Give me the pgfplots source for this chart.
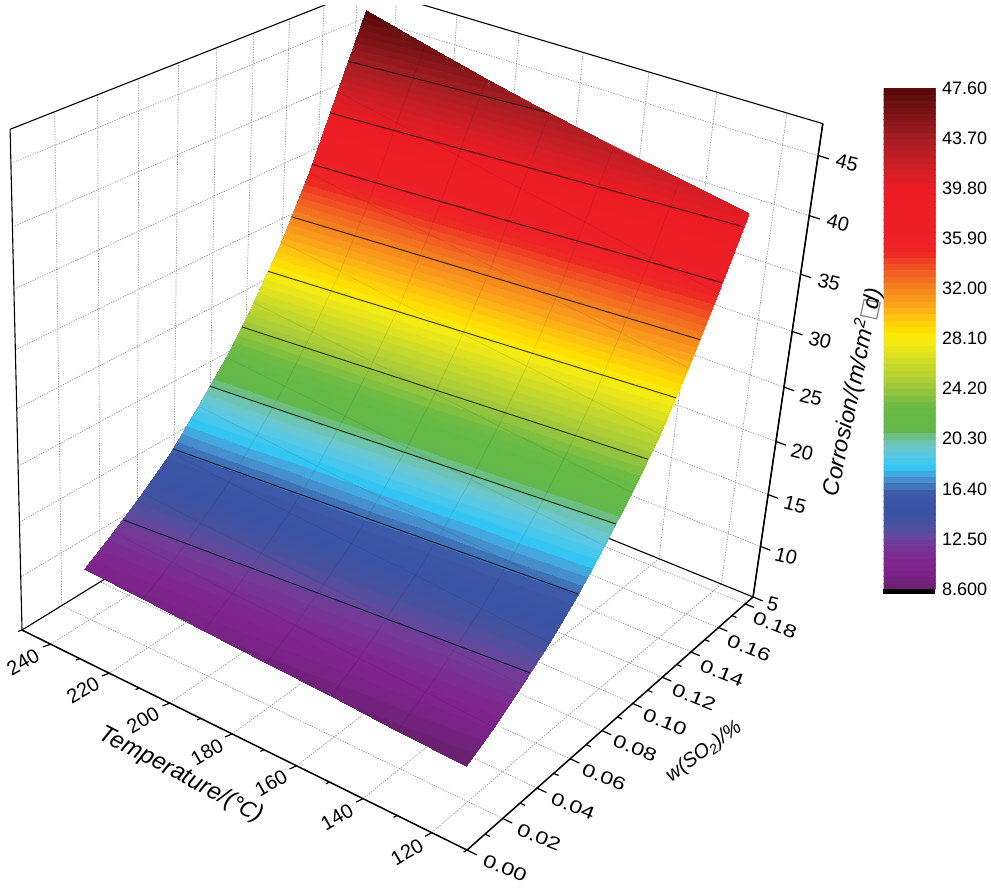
\documentclass[border=0pt]{standalone}
\usepackage{fontspec}
\usepackage{pgfplots}
\usepackage{pgfplotstable}
\pgfplotsset{compat=1.18}
\setmainfont{Liberation Sans}
\newfontfamily\djf{DejaVu Sans}
\pgfplotstableread{
T S C
120 0.017 8.6
140 0.017 8.85
160 0.017 9.1
180 0.017 9.35
200 0.017 9.6
220 0.017 9.85
240 0.017 10.1
120 0.032 10.1
140 0.032 10.4
160 0.032 10.7
180 0.032 11.0
200 0.032 11.3
220 0.032 11.6
240 0.032 11.9
120 0.047 12.0
140 0.047 12.3
160 0.047 12.7
180 0.047 13.0
200 0.047 13.3
220 0.047 13.6
240 0.047 14.0
120 0.062 13.9
140 0.062 14.3
160 0.062 14.7
180 0.062 15.05
200 0.062 15.4
220 0.062 15.8
240 0.062 16.2
120 0.077 16.3
140 0.077 16.8
160 0.077 17.2
180 0.077 17.7
200 0.077 18.1
220 0.077 18.6
240 0.077 19.05
120 0.092 19.1
140 0.092 19.6
160 0.092 20.1
180 0.092 20.65
200 0.092 21.2
220 0.092 21.7
240 0.092 22.2
120 0.107 22.2
140 0.107 22.8
160 0.107 23.4
180 0.107 24.05
200 0.107 24.7
220 0.107 25.3
240 0.107 25.9
120 0.122 25.8
140 0.122 26.5
160 0.122 27.3
180 0.122 28.0
200 0.122 28.7
220 0.122 29.5
240 0.122 30.2
120 0.137 30.1
140 0.137 31.0
160 0.137 31.8
180 0.137 32.7
200 0.137 33.6
220 0.137 34.4
240 0.137 35.3
120 0.152 35.2
140 0.152 36.2
160 0.152 37.3
180 0.152 38.3
200 0.152 39.3
220 0.152 40.4
240 0.152 41.4
120 0.167 40.7
140 0.167 41.7
160 0.167 42.7
180 0.167 43.7
200 0.167 44.9
220 0.167 46.2
240 0.167 47.6
}\surfdata
\newcommand\seg[7][]{\addplot3[#1] table[row sep=\\,x expr={projx(\thisrow{T},\thisrow{S},\thisrow{C})},y expr={projy(\thisrow{T},\thisrow{S},\thisrow{C})},z expr=0]{T S C\\ #2 #3 #4\\ #5 #6 #7\\};}
\newcommand\slab[3]{\node[lb,font=\fontsize{18}{20}\selectfont,rotate=-22] at (axis cs:#1,#2,0) {\scalebox{1.3}[1]{#3}};}
\tikzset{
 gl/.style={no marks,draw=black!45,line width=0.7pt,dash pattern=on 1.2pt off 1.4pt},
 ed/.style={no marks,draw=black,line width=1.5pt},
 edt/.style={no marks,draw=black,line width=1.1pt},
 tk/.style={no marks,draw=black,line width=1.2pt},
 cl/.style={no marks,draw=black,draw opacity=0.72,line width=1pt},
 lb/.style={font=\fontsize{20}{22}\selectfont,inner sep=0pt,text=black},
}
\begin{document}
\begin{tikzpicture}
\begin{axis}[
 name=main,
 scale only axis,width=991pt,height=888pt,
 xmin=0,xmax=991,ymin=0,ymax=888,zmin=-1,zmax=1,
 view={0}{90},hide axis,
 declare function={
  uu(\t)=(\t-110)/140; vv(\s)=\s/0.186; ww(\z)=(\z-5)/42.6;
  dn(\t,\s,\z)=1+0.1179*uu(\t)+0.184*vv(\s)-0.118*ww(\z);
  projx(\t,\s,\z)=(467-442.4*uu(\t)+424.6*vv(\s)-14.5*ww(\z))/dn(\t,\s,\z);
  projy(\t,\s,\z)=888-(850-145.7*uu(\t)-143.2*vv(\s)-575*ww(\z))/dn(\t,\s,\z);
 },
 colormap={bandsrc}{
  rgb255(0)=(106,33,112); rgb255(2)=(122,35,135); rgb255(4)=(128,38,143);
  rgb255(7)=(116,58,151); rgb255(8)=(100,73,157); rgb255(10)=(71,82,159);
  rgb255(12)=(59,83,164); rgb255(15)=(61,86,166); rgb255(16)=(63,109,179); rgb255(17)=(69,138,201);
  rgb255(18)=(72,160,218); rgb255(19)=(47,198,245); rgb255(21)=(85,200,230);
  rgb255(22)=(104,200,216); rgb255(24)=(112,194,154); rgb255(25)=(98,184,74);
  rgb255(29)=(104,187,69); rgb255(32)=(156,199,61); rgb255(36)=(203,218,42);
  rgb255(39)=(240,232,21); rgb255(40)=(249,236,19); rgb255(41)=(255,228,0);
  rgb255(43)=(254,203,10); rgb255(45)=(251,172,24); rgb255(47)=(248,147,29);
  rgb255(49)=(244,122,32); rgb255(51)=(241,90,36); rgb255(53)=(238,58,36);
  rgb255(54)=(237,36,36); rgb255(56)=(237,32,39); rgb255(64)=(237,28,36);
  rgb255(67)=(214,30,38); rgb255(72)=(168,30,34); rgb255(76)=(127,21,24);
  rgb255(80)=(90,10,10);
 },
 colormap={band}{samples of colormap={80 of bandsrc}},
 colormap name=band,
 colormap access=piecewise constant,
 point meta min=8.6,point meta max=47.6,
 colorbar,colorbar sampled,
 colorbar style={
  samples=81,at={(parent axis.south west)},anchor=south west,
  xshift=875pt,yshift=299pt,width=52pt,height=501pt,
  ytick={8.6,12.5,16.4,20.3,24.2,28.1,32,35.9,39.8,43.7,47.6},
  yticklabels={8.600,12.50,16.40,20.30,24.20,28.10,32.00,35.90,39.80,43.70,47.60},
  tick style={draw=none},major tick length=0pt,
  yticklabel style={font=\fontsize{18}{20}\selectfont,text=black,xshift=3pt},
  axis line style={draw=none},
 },
]
% floor and walls
\pgfplotsinvokeforeach{120,140,160,180,200,220,240}{
 \seg[gl]{#1}{0}{5}{#1}{0.186}{5}
 \seg[gl]{#1}{0.186}{5}{#1}{0.186}{47.6}
}
\pgfplotsinvokeforeach{0.02,0.04,0.06,0.08,0.10,0.12,0.14,0.16,0.18}{
 \seg[gl]{110}{#1}{5}{250}{#1}{5}
 \seg[gl]{250}{#1}{5}{250}{#1}{47.6}
}
\pgfplotsinvokeforeach{10,15,20,25,30,35,40,45}{
 \seg[gl]{250}{0}{#1}{250}{0.186}{#1}
 \seg[gl]{110}{0.186}{#1}{250}{0.186}{#1}
}
% box edges
\seg[edt]{250}{0}{5}{250}{0.186}{5}
\seg[edt]{110}{0.186}{5}{250}{0.186}{5}
\seg[edt]{250}{0}{5}{250}{0}{47.6}
\seg[edt]{110}{0.186}{5}{110}{0.186}{47.6}
\seg[edt]{250}{0}{47.6}{250}{0.186}{47.6}
\seg[edt]{110}{0.186}{47.6}{250}{0.186}{47.6}
\seg[ed]{110}{0}{5}{250}{0}{5}
\seg[ed]{110}{0}{5}{110}{0.186}{5}
\seg[ed]{110}{0.186}{5}{110}{0.186}{47.6}
\fill[white] (axis cs:0,883,0) rectangle (axis cs:991,888,0);
% ticks
\pgfplotsinvokeforeach{120,140,160,180,200,220,240}{\seg[tk]{#1}{0}{5}{#1}{-0.0037}{5.2}}
\pgfplotsinvokeforeach{110,130,150,170,190,210,230,250}{\seg[tk]{#1}{0}{5}{#1}{-0.0019}{5.1}}
\pgfplotsinvokeforeach{0,0.02,0.04,0.06,0.08,0.10,0.12,0.14,0.16,0.18}{\seg[tk]{110}{#1}{5}{107.3}{#1}{5}}
\pgfplotsinvokeforeach{0.01,0.03,0.05,0.07,0.09,0.11,0.13,0.15,0.17}{\seg[tk]{110}{#1}{5}{108.6}{#1}{5}}
\pgfplotsinvokeforeach{5,10,15,20,25,30,35,40,45}{\seg[tk]{110}{0.186}{#1}{107}{0.186}{#1}}
% surface
\addplot3[surf,shader=interp,mesh/rows=11,mesh/cols=7,point meta=\thisrow{C}]
 table[x expr={projx(\thisrow{T},\thisrow{S},\thisrow{C})},y expr={projy(\thisrow{T},\thisrow{S},\thisrow{C})},z expr=0]{\surfdata};
\addplot3[surf,shader=faceted,fill opacity=0,draw opacity=0.05,faceted color=black,line width=0.6pt,mesh/rows=11,mesh/cols=7,point meta=\thisrow{C}]
 table[x expr={projx(\thisrow{T},\thisrow{S},\thisrow{C})},y expr={projy(\thisrow{T},\thisrow{S},\thisrow{C})},z expr=0]{\surfdata};
% contour lines
\seg[cl]{120}{0.0515}{12.5}{240}{0.0371}{12.5}
\seg[cl]{120}{0.0778}{16.4}{240}{0.0635}{16.4}
\seg[cl]{120}{0.0985}{20.3}{240}{0.0834}{20.3}
\seg[cl]{120}{0.1158}{24.2}{240}{0.1008}{24.2}
\seg[cl]{120}{0.1307}{28.1}{240}{0.1149}{28.1}
\seg[cl]{120}{0.1429}{32}{240}{0.1279}{32}
\seg[cl]{120}{0.1539}{35.9}{240}{0.1387}{35.9}
\seg[cl]{120}{0.1641}{39.8}{240}{0.1482}{39.8}
\seg[cl]{180}{0.167}{43.7}{240}{0.1577}{43.7}
% tick labels
\node[lb,rotate=30] at (axis cs:23,226,0) {240};
\node[lb,rotate=30] at (axis cs:83,198,0) {220};
\node[lb,rotate=30] at (axis cs:143,168,0) {200};
\node[lb,rotate=30] at (axis cs:207,136,0) {180};
\node[lb,rotate=30] at (axis cs:271,105,0) {160};
\node[lb,rotate=30] at (axis cs:337,71,0) {140};
\node[lb,rotate=30] at (axis cs:407,36,0) {120};
\slab{505}{20}{0.00}
\slab{539}{51}{0.02}
\slab{573}{82}{0.04}
\slab{604}{111}{0.06}
\slab{635}{140}{0.08}
\slab{665}{166}{0.10}
\slab{694}{191}{0.12}
\slab{722}{215}{0.14}
\slab{749}{240}{0.16}
\slab{775}{263}{0.18}
\node[lb,rotate=-14] at (axis cs:773,284,0) {5};
\node[lb,rotate=-14] at (axis cs:786,332,0) {10};
\node[lb,rotate=-14] at (axis cs:795,383,0) {15};
\node[lb,rotate=-14] at (axis cs:802,436,0) {20};
\node[lb,rotate=-14] at (axis cs:811,491,0) {25};
\node[lb,rotate=-14] at (axis cs:820,548,0) {30};
\node[lb,rotate=-14] at (axis cs:829,606,0) {35};
\node[lb,rotate=-14] at (axis cs:838,665,0) {40};
\node[lb,rotate=-14] at (axis cs:847,725,0) {45};
% axis titles
\node[lb,font=\fontsize{24}{26}\selectfont\itshape,rotate=-27.7] at (axis cs:181,113,0) {Temperature/({\djf\fontsize{21}{23}\selectfont ℃})};
\node[lb,font=\fontsize{20}{22}\selectfont\itshape,rotate=36] at (axis cs:704,136,0) {w(SO\textsubscript{2})/\%};
\node[lb,font=\fontsize{23}{25}\selectfont\itshape,rotate=78] at (axis cs:852,496,0) {Corrosion/(m/cm\textsuperscript{2}{\djf\textcolor{black!50}{□}}\kern-10pt d)};
\fill[black] (axis cs:883,299,0) rectangle (axis cs:935,294,0);
\end{axis}
\pgfresetboundingbox
\path[use as bounding box] (main.south west) rectangle (main.north east);
\end{tikzpicture}
\end{document}
